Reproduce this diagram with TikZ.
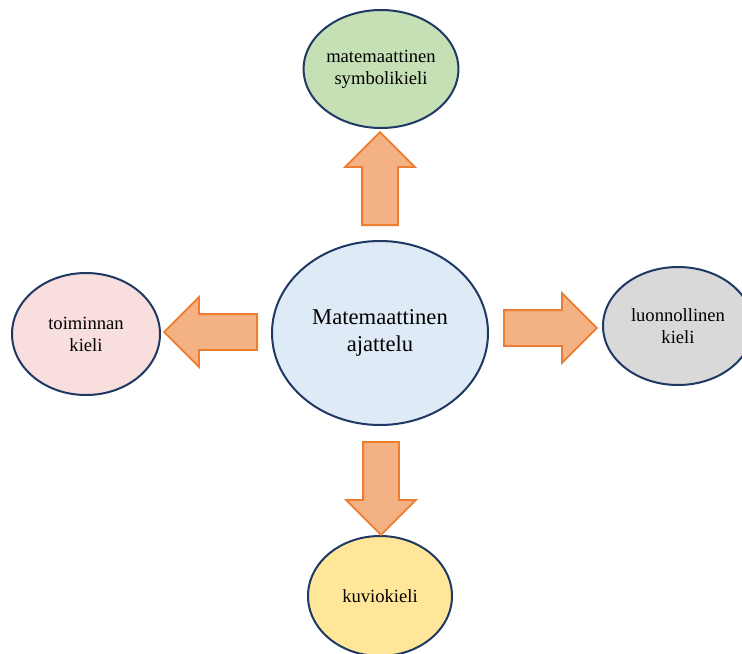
\documentclass[tikz,border=0pt]{standalone}
\usepackage{fontspec}
\setmainfont{Liberation Serif}
\usepackage{tikz}
\usetikzlibrary{shapes, shapes.geometric, shapes.arrows, positioning}
\tikzset{>=latex}
\definecolor{mygreen}{RGB}{197, 224, 180}
\definecolor{mypink}{RGB}{248, 222, 220}
\definecolor{myblue}{RGB}{222, 235, 247}
\definecolor{mygrey}{RGB}{217, 217, 217}
\definecolor{myyellow}{RGB}{255, 230, 153}
\definecolor{mynavy}{RGB}{31, 56, 100}
\definecolor{myorange}{RGB}{244, 177, 131}
\definecolor{myorangedark}{RGB}{237, 125, 49}
\tikzset{
  kieli/.style = {ellipse, draw = mynavy, line width = 1pt, inner sep = 0pt, align = center, font = \fontsize{9.3}{11}\selectfont},
  blockarrow/.style = {single arrow, draw = myorangedark, fill = myorange, line width = 0.9pt, inner xsep = 0pt, inner ysep = 8.5pt,
    minimum height = 46.5pt, single arrow head extend = 8.5pt, single arrow head indent = 0pt, anchor = tail}
}

\begin{document}
\begin{tikzpicture}[x = 0.5pt, y = -0.5pt]
\useasboundingbox (0, 0) rectangle (742, 653);
% keskus
\node[kieli, fill = myblue, minimum width = 108pt, minimum height = 92pt, font = \fontsize{11.3}{13.5}\selectfont] (ajattelu) at (380, 333) {Matemaattinen\\ajattelu};
% kielet
\node[kieli, fill = mygreen, minimum width = 74pt, minimum height = 59pt] (symboli) at (381, 69) {matemaattinen\\symbolikieli};
\node[kieli, fill = mypink, minimum width = 74pt, minimum height = 61pt] (toiminta) at (86, 334) {toiminnan\\kieli};
\node[kieli, fill = mygrey, minimum width = 75pt, minimum height = 59pt] (luonnollinen) at (678, 326) {luonnollinen\\kieli};
\node[kieli, fill = myyellow, minimum width = 72pt, minimum height = 60pt] (kuvio) at (380, 596) {kuviokieli};
% nuolet
\node[blockarrow, rotate = 90] (ylos) at (380, 226) {};
\node[blockarrow, rotate = 180] (vasen) at (258, 332) {};
\node[blockarrow] (oikea) at (503, 328) {};
\node[blockarrow, rotate = -90] (alas) at (381, 441) {};
\end{tikzpicture}
\end{document}
